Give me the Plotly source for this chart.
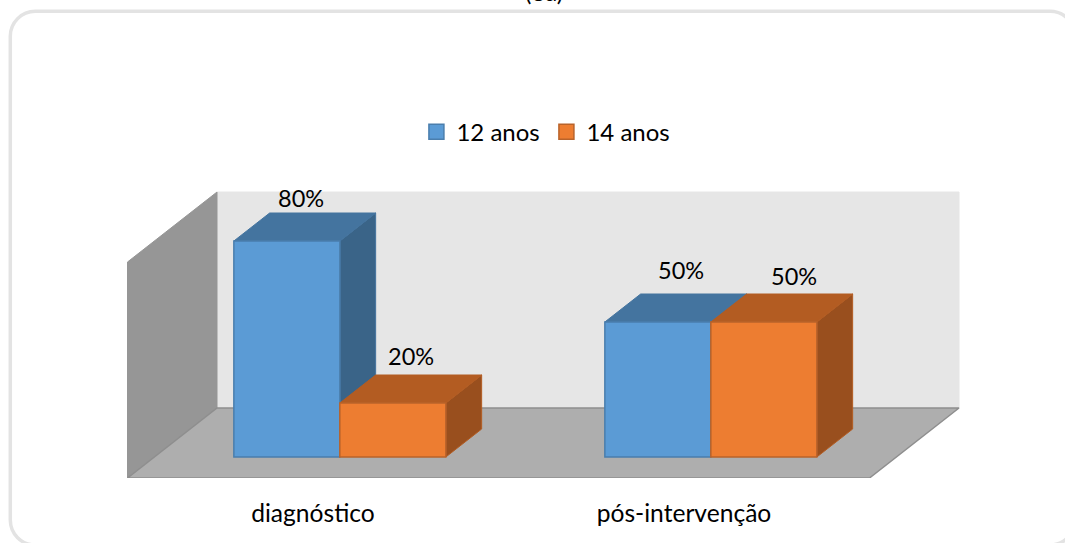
import plotly.graph_objects as go

# Chart data
categories = ["diagnóstico", "pós-intervenção"]
series_names = ["12 anos", "14 anos"]
values_12 = [80, 50]
values_14 = [20, 50]
value_labels_12 = ["80%", "50%"]
value_labels_14 = ["20%", "50%"]

# Oblique projection of the box: axis units per full depth of the floor
PX_X = 371.0          # pixels per category step
PX_Y = 2.7            # pixels per percentage point
DEPTH_X = 89.5 / PX_X
DEPTH_Y = 70 / PX_Y
AXIS_MAX = 80
BAR_W = 106 / PX_X
Z_FRONT, Z_BACK = 0.3, 0.7
X_MIN, X_MAX = -0.5, 1.5

FIG_W, FIG_H = 1065, 543
PLOT_H = 478
FONT = "Lato, Carlito, Calibri, sans-serif"


def proj(x, y, z):
    return x + z * DEPTH_X, y + z * DEPTH_Y


def polygon(points, fill, line, width=1, zorder=0):
    xy = [proj(*p) for p in points]
    xs = [p[0] for p in xy] + [xy[0][0]]
    ys = [p[1] for p in xy] + [xy[0][1]]
    return go.Scatter(x=xs, y=ys, mode="lines", fill="toself", fillcolor=fill,
                      line=dict(color=line, width=width), hoverinfo="skip",
                      showlegend=False, zorder=zorder)


def add_series(fig, values, offset, name, face, edge, top, side, zorder):
    for i, v in enumerate(values):
        x0 = i + offset * BAR_W
        x1 = x0 + BAR_W
        fig.add_trace(polygon([(x1, 0, Z_FRONT), (x1, 0, Z_BACK), (x1, v, Z_BACK), (x1, v, Z_FRONT)],
                              side, top, zorder=zorder))
        fig.add_trace(polygon([(x0, v, Z_FRONT), (x0, v, Z_BACK), (x1, v, Z_BACK), (x1, v, Z_FRONT)],
                              top, top, zorder=zorder))
    positions = [proj(i, 0, Z_FRONT)[0] for i in range(len(values))]
    fig.add_trace(go.Bar(x=positions, y=values, base=[Z_FRONT * DEPTH_Y] * len(values),
                         offset=offset * BAR_W, width=BAR_W, name=name, showlegend=False,
                         marker=dict(color=face, line=dict(color=edge, width=1.5)),
                         hoverinfo="skip", zorder=zorder + 1))
    # Legend key: a square slightly larger than the default bar swatch
    fig.add_trace(go.Scatter(x=[None], y=[None], mode="markers", name=name,
                             marker=dict(symbol="square", size=15, color=face,
                                         line=dict(color=edge, width=1.5))))


def frame_path(left, top, right, bottom, r):
    """Rounded rectangle given in page pixels, returned in paper coordinates."""
    def pt(x, y):
        return f"{x / FIG_W:.5f},{(PLOT_H - y) / PLOT_H:.5f}"
    k = 0.4477 * r
    return (f"M {pt(left, top + r)} "
            f"C {pt(left, top + k)} {pt(left + k, top)} {pt(left + r, top)} "
            f"L {pt(right - r, top)} "
            f"C {pt(right - k, top)} {pt(right, top + k)} {pt(right, top + r)} "
            f"L {pt(right, bottom - r)} "
            f"C {pt(right, bottom - k)} {pt(right - k, bottom)} {pt(right - r, bottom)} "
            f"L {pt(left + r, bottom)} "
            f"C {pt(left + k, bottom)} {pt(left, bottom - k)} {pt(left, bottom - r)} Z")


fig = go.Figure()

# Walls and floor of the box
fig.add_trace(polygon([(X_MIN, 0, 1), (X_MAX, 0, 1), (X_MAX, AXIS_MAX, 1), (X_MIN, AXIS_MAX, 1)],
                      "#E6E6E6", "#E6E6E6"))
fig.add_trace(polygon([(X_MIN, 0, 0), (X_MIN, 0, 1), (X_MIN, AXIS_MAX, 1), (X_MIN, AXIS_MAX, 0)],
                      "#969696", "#969696"))
fig.add_trace(polygon([(X_MIN, 0, 0), (X_MAX, 0, 0), (X_MAX, 0, 1), (X_MIN, 0, 1)],
                      "#AEAEAE", "#8E8E8E", width=1.5))

add_series(fig, values_12, -1, series_names[0], "#5B9BD5", "#4A7EAD", "#44749F", "#3A6488", 1)
add_series(fig, values_14, 0, series_names[1], "#ED7D31", "#B9632A", "#B35C22", "#994F1E", 3)

# Value labels sit above each bar, nudged in pixels by hand
label_nudges_12 = [(-4, 15), (5, 24)]
label_nudges_14 = [(0, 19), (12, 18)]
annotations = []
for values, labels, nudges, off in ((values_12, value_labels_12, label_nudges_12, -0.5),
                                    (values_14, value_labels_14, label_nudges_14, 0.5)):
    for i, (v, text, (sx, sy)) in enumerate(zip(values, labels, nudges)):
        x, y = proj(i + off * BAR_W, v, Z_BACK)
        x -= (Z_BACK - Z_FRONT) * DEPTH_X / 2
        annotations.append(dict(x=x, y=y, text=text, showarrow=False, xshift=sx, yshift=sy,
                                font=dict(family=FONT, size=23.5, color="#000000")))

# Caption cut off by the top edge of the page
annotations.append(dict(xref="paper", yref="paper", x=0.5108, y=1, yanchor="bottom", yshift=-8,
                        text="(8a)", showarrow=False,
                        font=dict(family=FONT, size=24, color="#000000")))

# Rounded frame of the chart area, running past the right and bottom page edges
frame = dict(type="path", xref="paper", yref="paper", layer="below",
             path=frame_path(10.3, 11.3, 1075, 545, 25),
             line=dict(color="#E3E3E3", width=3.5))

fig.update_layout(
    width=FIG_W, height=FIG_H,
    margin=dict(l=0, r=0, t=0, b=FIG_H - PLOT_H),
    paper_bgcolor="#FFFFFF", plot_bgcolor="rgba(0,0,0,0)",
    barmode="overlay",
    font=dict(family=FONT, size=24, color="#000000"),
    xaxis=dict(range=[-313 / PX_X, (FIG_W - 313) / PX_X], tickvals=[0, 1], ticktext=categories,
               showgrid=False, zeroline=False, showline=False, ticks="", ticklabelstandoff=18,
               tickfont=dict(family=FONT, size=24.6), fixedrange=True),
    yaxis=dict(range=[0, PLOT_H / PX_Y], visible=False, fixedrange=True),
    legend=dict(orientation="h", x=0.391, xanchor="left", y=0.7235, yanchor="middle",
                font=dict(family=FONT, size=24), itemwidth=30,
                entrywidth=85, entrywidthmode="pixels", bgcolor="rgba(0,0,0,0)"),
    annotations=annotations,
    shapes=[frame],
)

fig.write_html("out.html")
